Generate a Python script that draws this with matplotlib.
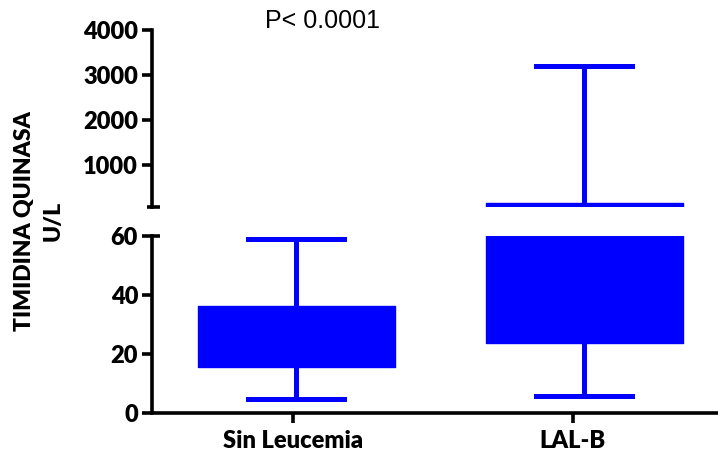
import matplotlib.pyplot as plt

# box plot summaries (U/L)
groups = ["Sin Leucemia", "LAL-B"]
q1 = [15.8, 23.9]
median = [25.0, 45.0]
q3 = [36.3, 160.0]
whisker_low = [4.7, 5.8]
whisker_high = [59.1, 3210.0]

box_pos = [1, 2]
tick_pos = [0.99, 1.96]
axis_break = (60, 62)

stats = [
    dict(label=g, q1=a, med=m, q3=b, whislo=lo, whishi=hi, fliers=[])
    for g, a, m, b, lo, hi in zip(groups, q1, median, q3, whisker_low, whisker_high)
]

blue = "#0000FF"
plt.rcParams["font.family"] = ["Lato", "DejaVu Sans"]
plt.rcParams["font.weight"] = "heavy"

fig = plt.figure(figsize=(7.18, 4.63), dpi=100)
ax_top = fig.add_axes([0.2117, 0.5523, 0.7883, 0.3829])
ax_bot = fig.add_axes([0.2117, 0.1073, 0.7883, 0.3829])


def draw_boxes(ax, items, pos):
    ax.bxp(
        items,
        positions=pos,
        widths=0.684,
        capwidths=0.333,
        patch_artist=True,
        showfliers=False,
        boxprops=dict(facecolor=blue, edgecolor=blue, linewidth=1, joinstyle="round"),
        whiskerprops=dict(color=blue, linewidth=3.6),
        capprops=dict(color=blue, linewidth=3.6),
        medianprops=dict(color=blue, linewidth=1),
    )


# upper segment only gets the groups that reach above the break
upper = [(s, p) for s, p in zip(stats, box_pos) if s["whishi"] > axis_break[0]]
draw_boxes(ax_top, [s for s, _ in upper], [p for _, p in upper])
draw_boxes(ax_bot, stats, box_pos)

for ax in (ax_top, ax_bot):
    ax.set_xlim(0.5, 2.465)
    for s in ("top", "right"):
        ax.spines[s].set_visible(False)
    ax.spines["left"].set_linewidth(2.6)
    ax.tick_params(axis="y", width=2.6, length=7, labelsize=17, pad=3)

# upper segment of the broken axis
ax_top.set_ylim(axis_break[1], 4000)
ax_top.set_yticks([1000, 2000, 3000, 4000])
ax_top.spines["bottom"].set_visible(False)
ax_top.set_xticks([])
ax_top.plot([-0.0088, 0.0141], [0, 0], transform=ax_top.transAxes,
            color="black", lw=2.6, clip_on=False, solid_capstyle="butt")

# lower segment
ax_bot.set_ylim(0, axis_break[0])
ax_bot.set_yticks([0, 20, 40, 60])
ax_bot.spines["bottom"].set_linewidth(2.6)
ax_bot.set_xticks(tick_pos)
ax_bot.set_xticklabels(groups)
ax_bot.tick_params(axis="x", width=2.6, length=7, labelsize=17, pad=5)
ax_bot.plot([0, 0.0141], [1, 1], transform=ax_bot.transAxes,
            color="black", lw=2.6, clip_on=False, solid_capstyle="butt")

fig.text(0.054, 0.5227, "TIMIDINA QUINASA\nU/L", rotation=90, ha="center", va="center",
         multialignment="center", linespacing=1.5, fontsize=16.5, fontweight="heavy")
fig.text(0.4487, 0.9389, "P< 0.0001", ha="center", va="baseline",
         fontsize=18, fontweight="normal", family="Liberation Sans")

fig.savefig("out.png", dpi=100)
